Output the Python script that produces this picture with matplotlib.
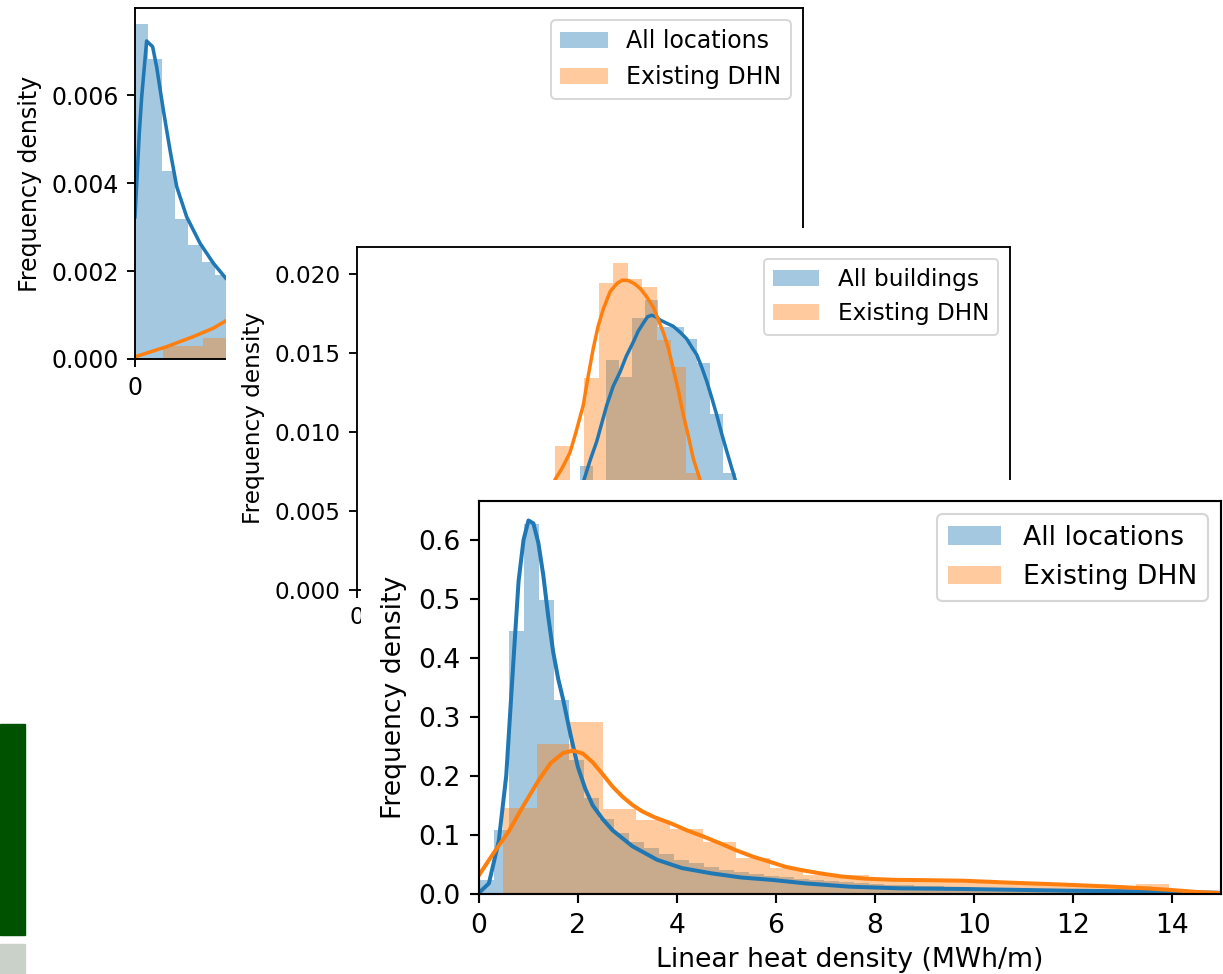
import numpy as np
import matplotlib
matplotlib.use("Agg")
import matplotlib.pyplot as plt
from matplotlib.patches import Rectangle

BLUE = "#1f77b4"
ORANGE = "#ff7f0e"

# ---- panel 1 (top left, mostly hidden) ----
p1_blue_start, p1_blue_width = 0, 10
p1_blue_heights = [0.00761, 0.00683, 0.00427, 0.00318, 0.00259, 0.00221, 0.0019, 0.0016]
p1_orange_start, p1_orange_width = 20.7, 30
p1_orange_heights = [0.0003, 0.00047, 0.0006]
p1_kde_blue_x = [0, 3.2, 5.0, 8.7, 13.2, 16.2, 21.2, 26.2, 31.2, 38.7, 48.7, 58.6, 68.1, 80]
p1_kde_blue_y = [0.00323, 0.00513, 0.00596, 0.00723, 0.0071, 0.00664, 0.00566, 0.00475,
                 0.00392, 0.00323, 0.00263, 0.00218, 0.00183, 0.0016]
p1_kde_orange_x = [0, 23.7, 43.7, 58.6, 68.1, 80]
p1_kde_orange_y = [0.00005, 0.00028, 0.00051, 0.0007, 0.00087, 0.0011]
p1_labels = ["All locations", "Existing DHN"]

# ---- panel 2 (middle, partly hidden) ----
p2_blue_start, p2_blue_width = 110.85, 6.47
p2_blue_heights = [0.00785, 0.0062, 0.01456, 0.0135, 0.01723, 0.01835, 0.01667, 0.01667,
                   0.01589, 0.01435, 0.01114, 0.00738, 0.004]
p2_orange_start, p2_orange_width = 98.56, 7.22
p2_orange_heights = [0.0091, 0.006, 0.01344, 0.01945, 0.02068, 0.01968, 0.0192, 0.0158,
                     0.01413, 0.0074, 0.003]
p2_kde_blue_x = [100, 113.1, 116, 119.3, 124.3, 127.5, 130.9, 134, 137.5, 140, 142.5, 144.6,
                 146.7, 148.7, 150.8, 154, 157.4, 161, 164.1, 167, 169.1, 171.6, 174.1, 176.5,
                 179, 181.5, 184, 188.2, 200]
p2_kde_blue_y = [0.002, 0.00703, 0.0082, 0.0094, 0.0117, 0.0129, 0.0138, 0.0148, 0.0157,
                 0.0164, 0.0169, 0.0173, 0.0174, 0.0173, 0.0171, 0.0169, 0.0167, 0.0163,
                 0.0159, 0.0153, 0.0149, 0.0141, 0.0132, 0.0122, 0.0111, 0.0099, 0.0088,
                 0.0070, 0.002]
p2_kde_orange_x = [80, 90, 98.6, 102, 106, 109, 112.6, 115, 117.6, 120, 122.6, 126, 129.3,
                   132, 135, 138, 140.9, 144, 147.5, 150, 152.5, 155, 157.4, 160, 162.4, 165,
                   167.4, 170.7, 180]
p2_kde_orange_y = [0.001, 0.004, 0.0070, 0.0077, 0.0087, 0.0100, 0.0117, 0.0135, 0.0153,
                   0.0167, 0.0178, 0.0189, 0.0194, 0.01962, 0.0196, 0.0194, 0.0191, 0.0186,
                   0.0179, 0.0171, 0.0163, 0.0153, 0.0140, 0.0126, 0.0111, 0.0097, 0.0083,
                   0.0070, 0.002]
p2_labels = ["All buildings", "Existing DHN"]

# ---- panel 3 (front) ----
p3_blue_start, p3_blue_width = 0, 0.303
p3_blue_heights = [0.024, 0.108, 0.446, 0.627, 0.498, 0.329, 0.227, 0.162, 0.127, 0.103,
                   0.088, 0.078, 0.068, 0.058, 0.052, 0.046, 0.041, 0.037, 0.034, 0.031,
                   0.028, 0.026, 0.024, 0.022, 0.020, 0.019, 0.017, 0.016, 0.015, 0.014,
                   0.013, 0.012, 0.011, 0.011, 0.010, 0.009, 0.009, 0.008, 0.008, 0.007,
                   0.007, 0.006, 0.006, 0.005, 0.005, 0.004, 0.004, 0.004, 0.003, 0.003]
p3_orange_start, p3_orange_width = 0.49, 0.673
p3_orange_heights = [0.145, 0.255, 0.291, 0.1435, 0.125, 0.111, 0.0887, 0.0605, 0.0435,
                     0.032, 0.032, 0.024, 0.022, 0.022, 0.020, 0.020, 0.018, 0.016, 0.010,
                     0.017, 0.002]
p3_kde_blue_x = [0.0, 0.2, 0.4, 0.55, 0.7, 0.8, 0.9, 1.0, 1.1, 1.2, 1.3, 1.4, 1.5, 1.6, 1.7,
                 1.85, 2.0, 2.15, 2.3, 2.5, 2.7, 3.1, 3.6, 4.1, 4.7, 5.3, 5.95, 6.6, 7.5,
                 8.5, 9.8, 11.9, 13.9, 15.0]
p3_kde_blue_y = [0.002, 0.018, 0.09, 0.2, 0.4, 0.53, 0.6, 0.633, 0.628, 0.595, 0.54, 0.47,
                 0.41, 0.365, 0.33, 0.27, 0.215, 0.178, 0.150, 0.127, 0.108, 0.081, 0.058,
                 0.044, 0.035, 0.028, 0.0237, 0.018, 0.0124, 0.0096, 0.0085, 0.0056, 0.004,
                 0.002]
p3_kde_orange_x = [0.0, 0.3, 0.6, 0.9, 1.2, 1.45, 1.7, 1.9, 2.1, 2.3, 2.5, 2.7, 2.9, 3.1,
                   3.3, 3.55, 3.9, 4.2, 4.55, 4.9, 5.2, 5.55, 5.9, 6.2, 6.55, 6.9, 7.3, 7.8,
                   8.4, 9.0, 9.8, 10.8, 11.8, 12.8, 13.5, 14.0, 14.5, 15.0]
p3_kde_orange_y = [0.032, 0.07, 0.106, 0.150, 0.192, 0.222, 0.239, 0.243, 0.238, 0.223,
                   0.203, 0.182, 0.165, 0.151, 0.140, 0.130, 0.119, 0.108, 0.097, 0.085,
                   0.074, 0.063, 0.054, 0.046, 0.040, 0.035, 0.030, 0.026, 0.024, 0.0235,
                   0.0225, 0.019, 0.016, 0.0125, 0.0095, 0.0068, 0.0035, 0.0015]
p3_labels = ["All locations", "Existing DHN"]


W, H = 1223, 974
fig = plt.figure(figsize=(W / 100, H / 100), dpi=100)


def box(x0, y0, x1, y1):
    # pixel box (top-left origin) -> figure fraction rect
    return [x0 / W, (H - y1) / H, (x1 - x0) / W, (y1 - y0) / H]


def draw_panel(rect, scale, bs, bw, bh, os_, ow, oh, kbx, kby, kox, koy, labels):
    ax = fig.add_axes(rect)
    fs = 10 * scale
    ax.bar(bs + np.arange(len(bh)) * bw, bh, width=bw, align="edge", color=BLUE,
           alpha=0.4, linewidth=0, label=labels[0])
    ax.bar(os_ + np.arange(len(oh)) * ow, oh, width=ow, align="edge", color=ORANGE,
           alpha=0.4, linewidth=0, label=labels[1])
    ax.plot(kbx, kby, color=BLUE, lw=1.5 * scale)
    ax.plot(kox, koy, color=ORANGE, lw=1.5 * scale)
    for s in ax.spines.values():
        s.set_linewidth(0.8 * scale)
    ax.tick_params(labelsize=fs, width=0.8 * scale, length=3.5 * scale, pad=3.5 * scale)
    ax.set_ylabel("Frequency density", fontsize=fs, labelpad=4 * scale)
    leg = ax.legend(loc="upper right", fontsize=fs, borderaxespad=0.5)
    leg.get_frame().set_linewidth(0.8 * scale)
    return ax


def cover(rect):
    c = fig.add_axes(rect)
    c.set_facecolor("white")
    c.axis("off")
    c.add_patch(Rectangle((0, 0), 1, 1, transform=c.transAxes, color="white"))
    return c


# stray bars at the left edge
fig.patches.append(Rectangle((0, (H - 935) / H), 25 / W, 211 / H, transform=fig.transFigure,
                             color="#005200", zorder=0))
fig.patches.append(Rectangle((0, 0), 25 / W, 30 / H, transform=fig.transFigure,
                             color="#c9d1c9", zorder=0))

ax1 = draw_panel(box(135, 8, 803, 359), 1.7,
                 p1_blue_start, p1_blue_width, p1_blue_heights,
                 p1_orange_start, p1_orange_width, p1_orange_heights,
                 p1_kde_blue_x, p1_kde_blue_y, p1_kde_orange_x, p1_kde_orange_y, p1_labels)
ax1.set_xlim(0, 500)
ax1.set_ylim(0, 0.00798)
ax1.set_yticks([0, 0.002, 0.004, 0.006])
ax1.set_xticks([0])  # the other x ticks sit under the middle panel

cover(box(226, 228, 1060, 974))

ax2 = draw_panel(box(357, 247, 1010, 590), 1.67,
                 p2_blue_start, p2_blue_width, p2_blue_heights,
                 p2_orange_start, p2_orange_width, p2_orange_heights,
                 p2_kde_blue_x, p2_kde_blue_y, p2_kde_orange_x, p2_kde_orange_y, p2_labels)
ax2.set_xlim(0, 325)
ax2.set_ylim(0, 0.02172)
ax2.set_yticks([0, 0.005, 0.010, 0.015, 0.020])
ax2.set_xticks([0])
ax2.yaxis.set_major_formatter(matplotlib.ticker.FormatStrFormatter("%.3f"))

cover(box(361, 480, 1223, 974))

ax3 = draw_panel(box(479, 501, 1221, 894), 1.92,
                 p3_blue_start, p3_blue_width, p3_blue_heights,
                 p3_orange_start, p3_orange_width, p3_orange_heights,
                 p3_kde_blue_x, p3_kde_blue_y, p3_kde_orange_x, p3_kde_orange_y, p3_labels)
ax3.set_xlim(0, 15)
ax3.set_ylim(0, 0.666)
ax3.set_xticks(range(0, 15, 2))
ax3.set_xlabel("Linear heat density (MWh/m)", fontsize=19.2, labelpad=6)

fig.savefig("out.png", dpi=100)
